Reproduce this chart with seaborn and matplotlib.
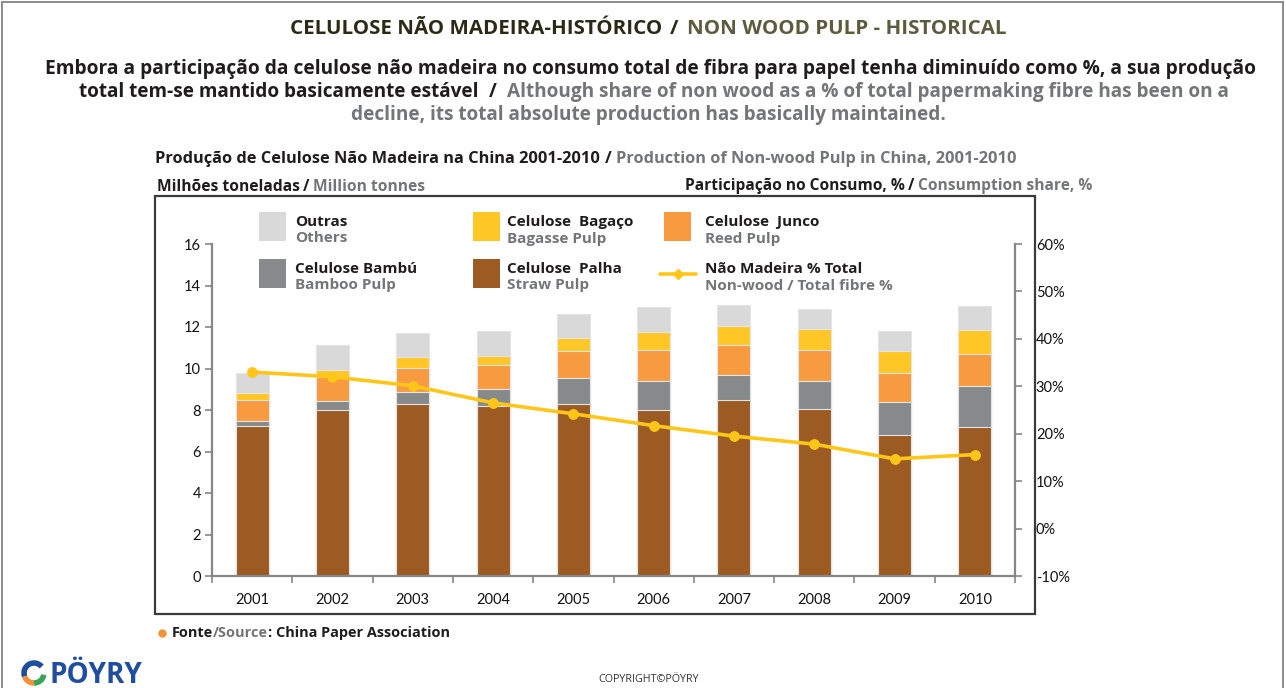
import numpy as np
import pandas as pd
import matplotlib
matplotlib.use("Agg")
import matplotlib.pyplot as plt
import seaborn as sns
from matplotlib.patches import Rectangle, Arc
from matplotlib.lines import Line2D

sns.set_theme(style="white")
FAM = ['Liberation Sans Narrow', 'Open Sans', 'DejaVu Sans']
NUMFAM = ['Lato', 'Open Sans', 'DejaVu Sans']
plt.rcParams['font.family'] = FAM

# ---------------- data ----------------
years = ['2001', '2002', '2003', '2004', '2005', '2006', '2007', '2008', '2009', '2010']
straw = [7.22, 8.02, 8.30, 8.21, 8.30, 8.02, 8.50, 8.06, 6.80, 7.17]
bamboo = [0.25, 0.43, 0.58, 0.82, 1.25, 1.39, 1.17, 1.35, 1.60, 2.00]
reed = [1.02, 1.16, 1.16, 1.14, 1.27, 1.50, 1.48, 1.50, 1.40, 1.53]
bagasse = [0.32, 0.32, 0.51, 0.45, 0.65, 0.86, 0.90, 1.01, 1.03, 1.16]
others = [0.98, 1.20, 1.18, 1.17, 1.16, 1.18, 1.02, 0.96, 0.98, 1.15]
share_pct = [33.0, 32.0, 30.1, 26.5, 24.2, 21.7, 19.5, 17.8, 14.7, 15.6]

left_ticks = [0, 2, 4, 6, 8, 10, 12, 14, 16]
right_ticks = [-10, 0, 10, 20, 30, 40, 50, 60]

series_names = [
    ('Outras', 'Others'),
    ('Celulose  Bagaço', 'Bagasse Pulp'),
    ('Celulose  Junco', 'Reed Pulp'),
    ('Celulose Bambú', 'Bamboo Pulp'),
    ('Celulose  Palha', 'Straw Pulp'),
]
line_name = ('Não Madeira % Total', 'Non-wood / Total fibre %')

C_STRAW = '#9C5B22'
C_BAMBOO = '#868A8A'
C_REED = '#F79A40'
C_BAGASSE = '#FFC726'
C_OTHERS = '#D9D9D9'
C_LINE = '#FFC61A'
C_AXIS = '#868686'
C_DARK = '#1e1c1c'
C_GRAY = '#747578'

W, H = 1286, 688
fig = plt.figure(figsize=(W / 100, H / 100), dpi=100)
fig.patch.set_facecolor('white')


def fx(px):
    return px / W


def fy(py):
    return 1 - py / H


# ---------------- axes ----------------
ax = fig.add_axes([fx(212), fy(576), (1015 - 212) / W, (576 - 244) / H])
ax.set_facecolor('white')

df = pd.DataFrame({'year': years, 'straw': straw, 'bamboo': bamboo,
                   'reed': reed, 'bagasse': bagasse, 'others': others})
layers = [('straw', C_STRAW), ('bamboo', C_BAMBOO), ('reed', C_REED),
          ('bagasse', C_BAGASSE), ('others', C_OTHERS)]
cum = {}
running = np.zeros(len(years))
for name, _ in layers:
    running = running + df[name].values
    cum[name] = running.copy()

for name, color in reversed(layers):
    sns.barplot(x=df['year'], y=cum[name], color=color, saturation=1,
                width=0.41, errorbar=None, edgecolor='#e4e4e4', linewidth=0.8,
                ax=ax)

ax.set_xlim(-0.5, len(years) - 0.5)
ax.set_ylim(0, 16)
ax.set_yticks(left_ticks)
ax.set_xlabel('')
ax.set_ylabel('')
ax.set_xticks(np.arange(len(years)))
ax.set_xticklabels(years)
ax.set_xticks(np.arange(-0.5, len(years), 1), minor=True)
ax.tick_params(axis='x', which='major', length=0, pad=12, labelsize=10.5,
               labelcolor='#111111')
ax.tick_params(axis='x', which='minor', length=5, width=1.2, color=C_AXIS,
               direction='out', bottom=True)
ax.tick_params(axis='y', which='major', length=5, width=1.2, color=C_AXIS,
               direction='out', left=True, pad=3, labelsize=10.5,
               labelcolor='#111111')
for lab in ax.get_xticklabels() + ax.get_yticklabels():
    lab.set_family(NUMFAM)
for s in ['top', 'right']:
    ax.spines[s].set_visible(False)
for s in ['left', 'bottom']:
    ax.spines[s].set_color(C_AXIS)
    ax.spines[s].set_linewidth(1.6)
ax.grid(False)

ax2 = ax.twinx()
sns.lineplot(x=np.arange(len(years)), y=share_pct, ax=ax2, color=C_LINE,
             linewidth=2.6, marker='o', markersize=7, markeredgecolor=C_LINE,
             markerfacecolor=C_LINE)
ax2.set_xlim(-0.5, len(years) - 0.5)
ax2.set_ylim(-10, 60)
ax2.set_yticks(right_ticks)
ax2.set_yticklabels([f'{v}%' for v in right_ticks])
ax2.set_xlabel('')
ax2.set_ylabel('')
ax2.grid(False)
ax2.tick_params(axis='y', which='major', length=5, width=1.2, color=C_AXIS,
                direction='out', right=True, left=False, labelright=True,
                labelleft=False, pad=10, labelsize=10.5,
                labelcolor='#111111')
for lab in ax2.get_yticklabels():
    lab.set_family(NUMFAM)
for s in ['top', 'left', 'bottom']:
    ax2.spines[s].set_visible(False)
ax2.spines['right'].set_color(C_AXIS)
ax2.spines['right'].set_linewidth(1.6)

# ---------------- frames ----------------
fig.add_artist(Rectangle((fx(155), fy(614)), (1035 - 155) / W, (614 - 196) / H,
                         transform=fig.transFigure, fill=False,
                         edgecolor='#3a3a3a', linewidth=1.6))
fig.add_artist(Rectangle((fx(2), fy(720)), (1283 - 2) / W, (720 - 2) / H,
                         transform=fig.transFigure, fill=False,
                         edgecolor='#8c8c8c', linewidth=1.4, clip_on=False))

renderer = fig.canvas.get_renderer()


def runs_line(runs, x_left, x_right, y_center, weight='bold', cap=0.72):
    s0 = 20.0
    widths = []
    for text, color, gap in runs:
        t = fig.text(0, 0, text, fontsize=s0, fontweight=weight)
        widths.append(t.get_window_extent(renderer).width)
        t.remove()
    em0 = s0 * fig.dpi / 72
    total0 = sum(widths) + sum(g for _, _, g in runs[:-1]) * em0
    s = s0 * (x_right - x_left) / total0
    k = s / s0
    em = s * fig.dpi / 72
    x = x_left
    base = y_center + cap * em / 2
    for (text, color, gap), w in zip(runs, widths):
        fig.text(fx(x), fy(base), text, fontsize=s, fontweight=weight,
                 color=color, ha='left', va='baseline')
        x += w * k + gap * em


# ---------------- titles ----------------
runs_line([('CELULOSE NÃO MADEIRA-HISTÓRICO', '#2b2a17', 0.45),
           ('/', '#2b2a17', 0.45),
           ('NON WOOD PULP - HISTORICAL', '#5c5b3d', 0)],
          290, 1005, 27, weight='bold')
runs_line([('Embora a participação da celulose não madeira no consumo total de fibra para papel tenha diminuído como %, a sua produção', C_DARK, 0)],
          45, 1250, 67)
runs_line([('total tem-se mantido basicamente estável', C_DARK, 0.5),
           ('/', C_DARK, 0.5),
           ('Although share of non wood as a % of total papermaking fibre has been on a', C_GRAY, 0)],
          79, 1230, 90)
runs_line([('decline, its total absolute production has basically maintained.', C_GRAY, 0)],
          351, 945, 113)
runs_line([('Produção de Celulose Não Madeira na China 2001-2010', C_DARK, 0.25),
           ('/', C_DARK, 0.25),
           ('Production of Non-wood Pulp in China, 2001-2010', C_GRAY, 0)],
          155, 1018, 157)
runs_line([('Milhões toneladas', C_DARK, 0.25), ('/', C_DARK, 0.25),
           ('Million tonnes', C_GRAY, 0)], 157, 425, 185)
runs_line([('Participação no Consumo, %', C_DARK, 0.25), ('/', C_DARK, 0.25),
           ('Consumption share, %', C_GRAY, 0)], 685, 1092, 184)

# ---------------- legend ----------------
LEG_FS = 11
legend_items = [
    (series_names[0], C_OTHERS, 259, 212, 295),
    (series_names[1], C_BAGASSE, 473, 212, 507),
    (series_names[2], C_REED, 664, 212, 705),
    (series_names[3], C_BAMBOO, 259, 259, 295),
    (series_names[4], C_STRAW, 473, 259, 507),
]
for (l1, l2), color, px, py, tx in legend_items:
    fig.add_artist(Rectangle((fx(px), fy(py + 29)), 27 / W, 29 / H,
                             transform=fig.transFigure, facecolor=color,
                             edgecolor='none'))
    fig.text(fx(tx), fy(py + 10), l1, fontsize=LEG_FS, fontweight='bold',
             color=C_DARK, ha='left', va='center')
    fig.text(fx(tx), fy(py + 26.5), l2, fontsize=LEG_FS, fontweight='bold',
             color=C_GRAY, ha='left', va='center')
fig.add_artist(Line2D([fx(660), fx(696)], [fy(274), fy(274)],
                      transform=fig.transFigure, color=C_LINE, linewidth=2.6))
fig.add_artist(Line2D([fx(678)], [fy(274)], transform=fig.transFigure,
                      color=C_LINE, marker='D', markersize=5.5))
fig.text(fx(705), fy(269), line_name[0], fontsize=LEG_FS, fontweight='bold',
         color=C_DARK, ha='left', va='center')
fig.text(fx(705), fy(285.5), line_name[1], fontsize=LEG_FS, fontweight='bold',
         color=C_GRAY, ha='left', va='center')

# ---------------- source & footer ----------------
fig.add_artist(Line2D([fx(162)], [fy(633)], transform=fig.transFigure,
                      color='#F39237', marker='o', markersize=5))
runs_line([('Fonte', C_DARK, 0), ('/Source', C_GRAY, 0),
           (': China Paper Association', C_DARK, 0)], 172, 450, 632)
runs_line([('PÖYRY', '#1f4e9e', 0)], 50, 143, 673, weight='bold')
runs_line([('COPYRIGHT©PÖYRY', '#333333', 0)], 598, 700, 678, weight='normal')

icon = fig.add_axes([fx(21), fy(686), 26 / W, 26 / H])
icon.set_xlim(-1.3, 1.3)
icon.set_ylim(-1.3, 1.3)
icon.set_aspect('equal')
icon.axis('off')
icon.add_patch(Arc((0, 0), 2, 2, theta1=40, theta2=200, lw=4, color='#1f4e9e'))
icon.add_patch(Arc((0, 0), 2, 2, theta1=200, theta2=270, lw=4, color='#F39237'))
icon.add_patch(Arc((0, 0), 2, 2, theta1=270, theta2=350, lw=4, color='#3aa35a'))

fig.savefig('out.png', dpi=100, facecolor='white')
